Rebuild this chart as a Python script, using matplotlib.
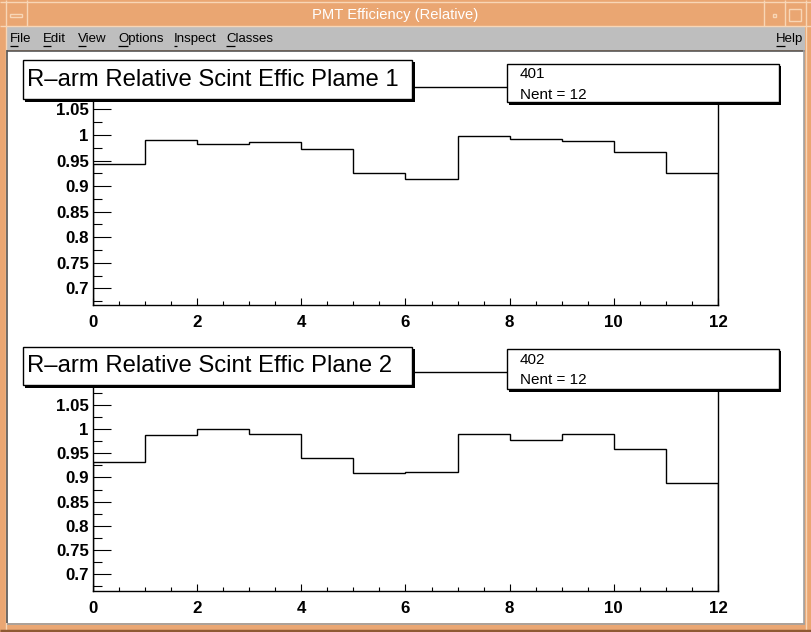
import numpy as np
import matplotlib
matplotlib.use("Agg")
import matplotlib.pyplot as plt
from matplotlib.patches import Rectangle
from matplotlib.ticker import MultipleLocator, FuncFormatter
from matplotlib import font_manager

# ---------------- data ----------------
bin_edges = list(range(13))
plane1_eff = [0.944, 0.991, 0.983, 0.987, 0.972, 0.925, 0.913, 0.999, 0.992, 0.988, 0.966, 0.925]
plane2_eff = [0.932, 0.988, 1.000, 0.991, 0.940, 0.909, 0.912, 0.991, 0.977, 0.991, 0.959, 0.888]
titles = ["R\u2013arm Relative Scint Effic Plame 1", "R\u2013arm Relative Scint Effic Plane 2"]
hist_ids = ["401", "402"]
n_entries = [12, 12]
y_ranges = [(0.6667, 1.095), (0.665, 1.119)]
x_ticks = [0, 2, 4, 6, 8, 10, 12]
window_title = "PMT Efficiency (Relative)"
menu_items = ["File", "Edit", "View", "Options", "Inspect", "Classes"]
help_item = "Help"

W, H = 812, 632
fig = plt.figure(figsize=(W / 100, H / 100), dpi=100)

avail = {f.name for f in font_manager.fontManager.ttflist}
SANS = "Liberation Sans" if "Liberation Sans" in avail else "DejaVu Sans"

ORANGE = "#EAA672"
LIGHT = "#F8D6B6"
DARK = "#8E5A33"
GREY = "#BEBEBE"

# background / chrome axes in pixel coordinates
bg = fig.add_axes([0, 0, 1, 1], zorder=0)
bg.set_xlim(0, W)
bg.set_ylim(H, 0)
bg.axis("off")


def prect(ax, x0, y0, x1, y1, fc="none", ec="none", lw=1.0, z=1):
    ax.add_patch(Rectangle((x0, y0), x1 - x0, y1 - y0, facecolor=fc,
                           edgecolor=ec, linewidth=lw, zorder=z))


def pline(ax, xs, ys, c="black", lw=1.0, z=2):
    ax.plot(xs, ys, color=c, linewidth=lw, zorder=z, solid_capstyle="butt")


prect(bg, 0, 0, W, H, fc=ORANGE, z=0)
# title bar bevels
pline(bg, [0, W], [2, 2], c=LIGHT)
pline(bg, [0, W], [25.5, 25.5], c=LIGHT)
pline(bg, [6, 6], [0, H], c=LIGHT)
pline(bg, [27, 27], [0, 26], c=LIGHT)
pline(bg, [764, 764], [0, 26], c=LIGHT)
pline(bg, [785, 785], [0, 26], c=LIGHT)
pline(bg, [806, 806], [0, H], c=LIGHT)
# buttons
prect(bg, 10, 13.5, 22.5, 16.5, fc="none", ec=LIGHT, lw=1.0, z=2)
prect(bg, 773, 13.5, 776, 16.5, fc="none", ec=LIGHT, lw=1.0, z=2)
prect(bg, 789, 9, 801, 20.5, fc="none", ec=LIGHT, lw=1.0, z=2)
bg.text(395, 14.5, window_title, color="white", fontsize=10.6, family=SANS,
        ha="center", va="center", zorder=3)

# menu bar
prect(bg, 7, 26.5, 805.5, 50, fc=GREY, z=1)
menu_x = [10, 43, 78, 118, 174, 226]
for item, mx in zip(menu_items, menu_x):
    bg.text(mx, 39, item, fontsize=9.5, family=SANS, color="black",
            ha="left", va="center", zorder=3)
bg.text(776, 39, help_item, fontsize=9.5, family=SANS, color="black",
        ha="left", va="center", zorder=3)

# underline first letters (measured after a draw)
fig.canvas.draw()
renderer = fig.canvas.get_renderer()
inv = bg.transData.inverted()
for item, mx in zip(menu_items + [help_item], menu_x + [776]):
    tmp = bg.text(mx, 39, item[0], fontsize=9.5, family=SANS, ha="left", va="center")
    bb = tmp.get_window_extent(renderer)
    (x0, _), (x1, _) = inv.transform([(bb.x0, bb.y0), (bb.x1, bb.y1)])
    tmp.remove()
    pline(bg, [mx, mx + (x1 - x0) - 0.5], [45.5, 45.5], c="black", lw=0.9, z=3)

# canvas
prect(bg, 7.5, 50.5, 804.5, 623, fc="white", z=1)
pline(bg, [7, 805], [50.5, 50.5], c="#555555", lw=1.2)
pline(bg, [7.5, 7.5], [50, 623], c="#555555", lw=1.2)
pline(bg, [804.5, 804.5], [50, 623.5], c="#A0A0A0", lw=1.2)
pline(bg, [7, 805], [623.5, 623.5], c="#A0A0A0", lw=1.2)
pline(bg, [0, W], [630.5, 630.5], c=DARK, lw=2.5)

# ---------------- data axes ----------------
panels = [
    dict(frame=(93, 718, 86.5, 305.3), tbox=(23, 412, 60, 99), sbox=(507, 779, 64, 102),
         ty=80.5, s1=74, s2=95),
    dict(frame=(93, 718, 371.7, 591), tbox=(23, 412, 347, 384.5), sbox=(507, 779, 349, 389),
         ty=366.5, s1=360, s2=380),
]
datas = [plane1_eff, plane2_eff]


def yfmt(v, pos):
    if v > 1.08:  # hidden behind the title box in the reference
        return ""
    s = "%.3f" % v
    s = s.rstrip("0").rstrip(".")
    return s


ov = fig.add_axes([0, 0, 1, 1], zorder=5)
ov.set_xlim(0, W)
ov.set_ylim(H, 0)
ov.axis("off")
ov.patch.set_alpha(0)

for i, p in enumerate(panels):
    xl, xr, yt, yb = p["frame"]
    ax = fig.add_axes([xl / W, 1 - yb / H, (xr - xl) / W, (yb - yt) / H], zorder=2)
    ax.stairs(datas[i], bin_edges, color="black", linewidth=1.0)
    ax.set_xlim(bin_edges[0], bin_edges[-1])
    ax.set_ylim(*y_ranges[i])
    ax.xaxis.set_major_locator(MultipleLocator(2))
    ax.xaxis.set_minor_locator(MultipleLocator(0.5))
    ax.yaxis.set_major_locator(MultipleLocator(0.05))
    ax.yaxis.set_minor_locator(MultipleLocator(0.025))
    ax.yaxis.set_major_formatter(FuncFormatter(yfmt))
    ax.set_xticks(x_ticks)
    ax.set_xticklabels([str(v) for v in x_ticks])
    ax.tick_params(axis="x", which="major", direction="in", length=5.0, width=0.8,
                   pad=7, labelsize=12.2)
    ax.tick_params(axis="x", which="minor", direction="in", length=2.6, width=0.8)
    ax.tick_params(axis="y", which="major", direction="in", length=13.0, width=0.8,
                   pad=3, labelsize=12.2)
    ax.tick_params(axis="y", which="minor", direction="in", length=6.8, width=0.8)
    for lab in ax.get_xticklabels() + ax.get_yticklabels():
        lab.set_fontweight("bold")
        lab.set_family(SANS)
    for sp in ax.spines.values():
        sp.set_linewidth(1.0)
    ax.patch.set_alpha(0)

    # title box with shadow
    x0, x1, y0, y1 = p["tbox"]
    prect(ov, x1, y0 + 2, x1 + 3, y1 + 3, fc="black", z=1)
    prect(ov, x0 + 2, y1, x1 + 3, y1 + 3, fc="black", z=1)
    prect(ov, x0, y0, x1, y1, fc="white", ec="black", lw=1.0, z=2)
    ov.text(x0 + 4, p["ty"], titles[i], fontsize=17.2, family=SANS,
            ha="left", va="center", zorder=3)
    # stats box
    x0, x1, y0, y1 = p["sbox"]
    prect(ov, x1, y0 + 2, x1 + 2.5, y1 + 2.5, fc="black", z=1)
    prect(ov, x0 + 2, y1, x1 + 2.5, y1 + 2.5, fc="black", z=1)
    prect(ov, x0, y0, x1, y1, fc="white", ec="black", lw=1.0, z=2)
    ov.text(x0 + 13, p["s1"], hist_ids[i], fontsize=11, family=SANS,
            ha="left", va="center", zorder=3)
    ov.text(x0 + 13, p["s2"], "Nent = %d" % n_entries[i], fontsize=11, family=SANS,
            ha="left", va="center", zorder=3)

fig.savefig("out.png", dpi=100)
